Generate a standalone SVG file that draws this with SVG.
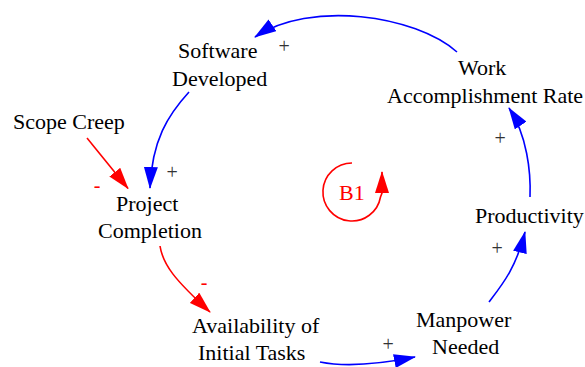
<svg xmlns="http://www.w3.org/2000/svg" width="585" height="367" viewBox="0 0 585 367">
<defs>
<marker id="ab" markerUnits="userSpaceOnUse" viewBox="0 0 22 14" refX="21" refY="7" markerWidth="22" markerHeight="14" orient="auto"><path d="M0,0 L22,7 L0,14 z" fill="#0000ff"/></marker>
<marker id="ar" markerUnits="userSpaceOnUse" viewBox="0 0 22 14" refX="21" refY="7" markerWidth="22" markerHeight="14" orient="auto"><path d="M0,0 L22,7 L0,14 z" fill="#ff0000"/></marker>
</defs>
<g id="connectors" fill="none" stroke-width="1.6">
<g stroke="#0000ff" marker-end="url(#ab)">
<path d="M457,52 C415,15 310,0 255,37"/>
<path d="M189,92 C168,115 152,140 150,188"/>
<path d="M320,362 C340,366 370,366 415,357"/>
<path d="M489,302 C502,285 516,268 525,232"/>
<path d="M530,197 C531,172 527,135 509,108"/>
</g>
<g stroke="#ff0000" marker-end="url(#ar)">
<path d="M87,138 L128,188.5"/>
<path d="M160,246 C163,265 175,280 210,312"/>
</g>
</g>
<g id="signs" font-size="20">
<text font-family="Liberation Serif" fill="#333333" x="278.4" y="53">+</text>
<text font-family="Liberation Serif" fill="#333333" x="166.4" y="179">+</text>
<text font-family="Liberation Serif" fill="#ff0000" x="93.7" y="192">-</text>
<text font-family="Liberation Serif" fill="#ff0000" x="200.7" y="289">-</text>
<text font-family="Liberation Serif" fill="#333333" x="382.4" y="351">+</text>
<text font-family="Liberation Serif" fill="#333333" x="491.4" y="255">+</text>
<text font-family="Liberation Serif" fill="#333333" x="494.4" y="145">+</text>
</g>
<g id="B1">
<path d="M352,163 A29,29 0 1 0 380.5,197 L382,193 L382,172" fill="none" stroke="#ff0000" stroke-width="1.6" marker-end="url(#ar)"/>
<g font-size="22"><text font-family="Liberation Serif" fill="#ff0000" x="339" y="200">B1</text></g>
</g>
<g font-size="22">
<g id="software-developed"><text font-family="Liberation Serif" x="178" y="58">Software</text><text font-family="Liberation Serif" x="172" y="86">Developed</text></g>
<g id="work-accomplishment-rate"><text font-family="Liberation Serif" x="458" y="75">Work</text><text font-family="Liberation Serif" x="387" y="103">Accomplishment Rate</text></g>
<g id="scope-creep"><text font-family="Liberation Serif" x="13" y="129">Scope Creep</text></g>
<g id="project-completion"><text font-family="Liberation Serif" x="116" y="211">Project</text><text font-family="Liberation Serif" x="98" y="238">Completion</text></g>
<g id="productivity"><text font-family="Liberation Serif" x="475" y="223">Productivity</text></g>
<g id="availability"><text font-family="Liberation Serif" x="192" y="333">Availability of</text><text font-family="Liberation Serif" x="198" y="360">Initial Tasks</text></g>
<g id="manpower-needed"><text font-family="Liberation Serif" x="416" y="327">Manpower</text><text font-family="Liberation Serif" x="432" y="354">Needed</text></g>
</g>
</svg>
